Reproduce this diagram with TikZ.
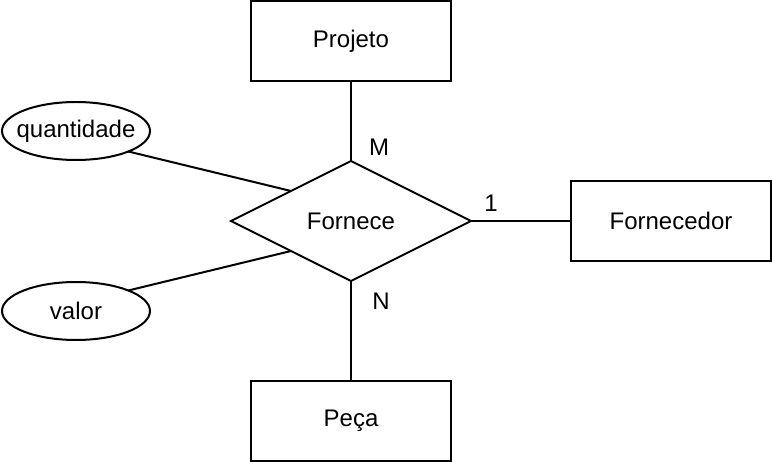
\documentclass[tikz,border=0pt]{standalone}
\usepackage{fontspec}
\setmainfont{Liberation Sans}
\usetikzlibrary{shapes.geometric}
\begin{document}
\begin{tikzpicture}[x=1pt,y=-1pt,
  every node/.style={font=\fontsize{24}{28}\selectfont},
  entity/.style={draw,line width=2pt,minimum width=200pt,minimum height=80pt,inner sep=0pt,outer sep=0pt},
  attr/.style={draw,ellipse,line width=2pt,minimum width=148pt,minimum height=58pt,inner xsep=-12pt,inner ysep=0pt,outer sep=0pt},
  rel/.style={draw,diamond,line width=2pt,minimum width=240pt,minimum height=120pt,aspect=2,inner sep=0pt,outer sep=0pt},
  card/.style={inner sep=0pt},
  conn/.style={line width=2pt}]
\useasboundingbox (0,0) rectangle (772,462);
\node[entity] (proj) at (351,41) {Projeto};
\node[entity] (forn) at (671,221) {Fornecedor};
\node[entity] (peca) at (351,421) {Peça};
\node[rel] (f) at (351,221) {Fornece};
\node[attr] (q) at (76,131) {quantidade};
\node[attr] (v) at (76,311) {valor};
\draw[conn] (proj) -- (f.north);
\draw[conn] (f.south) -- (peca);
\draw[conn] (f.east) -- (forn);
\draw[conn] (q.south east) -- (f.north west);
\draw[conn] (v.north east) -- (f.south west);
\node[card] (m) at (379,147) {M};
\node[card] (one) at (491,203) {1};
\node[card] (n) at (381,301) {N};
\end{tikzpicture}
\end{document}
